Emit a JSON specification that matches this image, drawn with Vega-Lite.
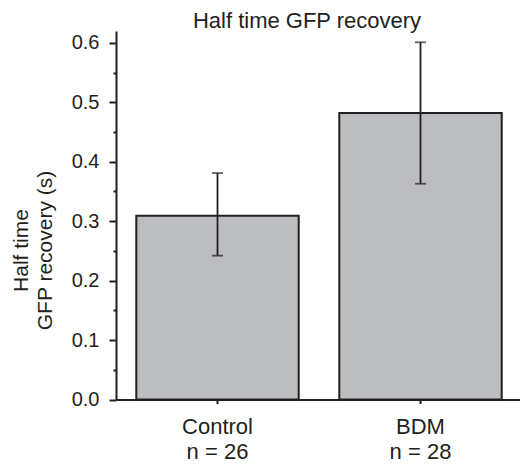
{
  "$schema": "https://vega.github.io/schema/vega-lite/v6.json",
  "autosize": "none",
  "padding": {"left": 116, "top": 31, "right": 0, "bottom": 66},
  "width": 406,
  "height": 368.5,
  "background": "white",
  "config": {
    "view": {"stroke": null},
    "font": "Liberation Sans",
    "title": {"font": "Liberation Sans", "fontSize": 22, "fontWeight": "normal", "color": "#231f20"}
  },
  "title": {"text": "Half time GFP recovery", "anchor": "middle", "offset": -2, "dx": -12},
  "data": {
    "values": [
      {"group": "Control", "n": "n = 26", "mean": 0.309, "lo": 0.242, "hi": 0.381},
      {"group": "BDM", "n": "n = 28", "mean": 0.482, "lo": 0.363, "hi": 0.601}
    ]
  },
  "encoding": {
    "x": {
      "field": "group",
      "type": "nominal",
      "sort": ["Control", "BDM"],
      "scale": {"paddingInner": 0.2, "paddingOuter": 0.1},
      "axis": {
        "title": null,
        "labelAngle": 0,
        "labelFont": "Liberation Sans",
        "labelFontSize": 22,
        "labelColor": "#231f20",
        "labelExpr": "[datum.label, datum.label == 'Control' ? 'n = 26' : 'n = 28']",
        "labelLineHeight": 25,
        "labelPadding": 13,
        "tickSize": 4,
        "tickWidth": 2,
        "tickColor": "#231f20",
        "domainWidth": 2,
        "domainColor": "#231f20"
      }
    }
  },
  "layer": [
    {
      "mark": {"type": "bar", "fill": "#bcbdc1", "stroke": "#231f20", "strokeWidth": 2},
      "encoding": {
        "y": {
          "field": "mean",
          "type": "quantitative",
          "scale": {"domain": [0, 0.62], "nice": false},
          "axis": {
            "values": [0, 0.1, 0.2, 0.3, 0.4, 0.5, 0.6],
            "format": ".1f",
            "grid": false,
            "orient": "left",
            "labelFont": "Liberation Sans",
            "labelFontSize": 20,
            "labelColor": "#231f20",
            "labelPadding": 10,
            "tickSize": 7,
            "tickWidth": 2,
            "tickColor": "#231f20",
            "domainWidth": 2,
            "domainColor": "#231f20",
            "title": ["Half time", "GFP recovery (s)"],
            "titleFont": "Liberation Sans",
            "titleFontSize": 21,
            "titleFontWeight": "normal",
            "titleColor": "#231f20",
            "titleAngle": -90,
            "titleAlign": "center",
            "titleBaseline": "top",
            "titleLineHeight": 24,
            "titleX": -106,
            "titleY": 219
          }
        }
      }
    },
    {
      "mark": {"type": "rule", "color": "#231f20", "strokeWidth": 1.8},
      "encoding": {
        "y": {
          "field": "lo",
          "type": "quantitative",
          "axis": {
            "values": [0.05, 0.15, 0.25, 0.35, 0.45, 0.55],
            "orient": "left",
            "labels": false,
            "domain": false,
            "grid": false,
            "title": null,
            "tickSize": 3,
            "tickWidth": 2,
            "tickColor": "#231f20"
          }
        },
        "y2": {"field": "hi"}
      }
    },
    {
      "mark": {"type": "tick", "color": "#231f20", "thickness": 1.8, "size": 11},
      "encoding": {"y": {"field": "lo", "type": "quantitative", "axis": null}}
    },
    {
      "mark": {"type": "tick", "color": "#231f20", "thickness": 1.8, "size": 11},
      "encoding": {"y": {"field": "hi", "type": "quantitative", "axis": null}}
    }
  ],
  "resolve": {"axis": {"y": "independent"}}
}
